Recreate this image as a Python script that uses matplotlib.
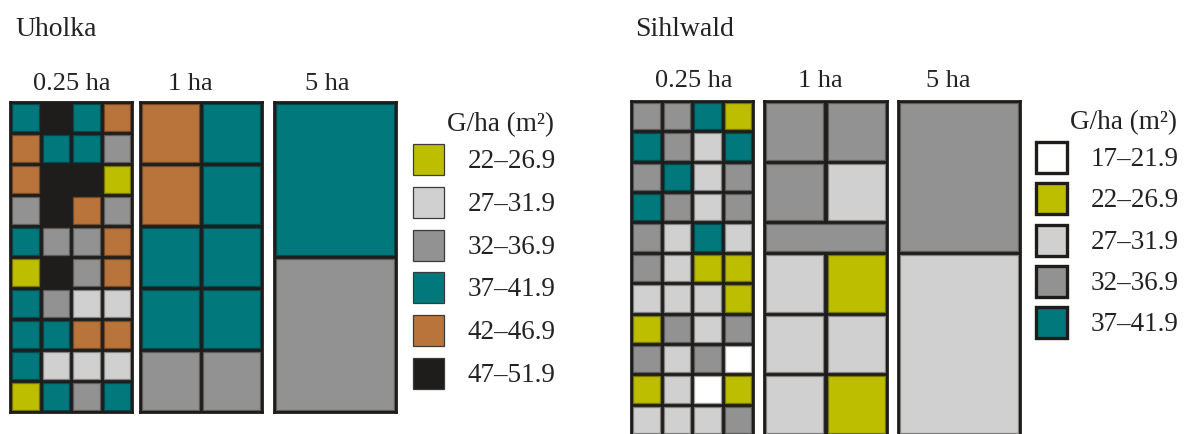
import matplotlib
matplotlib.use("Agg")
import matplotlib.pyplot as plt
from matplotlib.patches import Rectangle
from matplotlib.colors import to_rgb

W, H = 1191, 435
plt.rcParams['font.family'] = ['Liberation Serif', 'DejaVu Serif']

# classes de surface terrière G/ha (m²), index 0..6
class_labels = ['17–21.9', '22–26.9', '27–31.9', '32–36.9', '37–41.9', '42–46.9', '47–51.9']
class_colors = ['#ffffff', '#bebe00', '#d0d0d0', '#929292', '#00787c', '#b9743c', '#1e1d1b']
DARK = '#1e1d1b'

# Uholka : grille 0.25 ha (4 x 10), 1 ha, 5 ha
uholka_025 = [
    [4, 6, 4, 5],
    [5, 4, 4, 3],
    [5, 6, 6, 1],
    [3, 6, 5, 3],
    [4, 3, 3, 5],
    [1, 6, 3, 5],
    [4, 3, 2, 2],
    [4, 4, 5, 5],
    [4, 2, 2, 2],
    [1, 4, 3, 4],
]
uholka_1ha = [[5, 4], [5, 4], [4, 4], [4, 4], [3, 3]]
uholka_1ha_h = [2, 2, 2, 2, 2]
uholka_5ha = [[4], [3]]
uholka_5ha_h = [5, 5]
uholka_legend = [1, 2, 3, 4, 5, 6]

# Sihlwald : grille 0.25 ha (4 x 11), 1 ha, 5 ha
sihlwald_025 = [
    [3, 3, 4, 1],
    [4, 3, 2, 4],
    [3, 4, 2, 3],
    [4, 3, 2, 3],
    [3, 2, 4, 2],
    [3, 2, 1, 1],
    [2, 2, 2, 1],
    [1, 3, 2, 3],
    [3, 2, 3, 0],
    [1, 2, 0, 1],
    [2, 2, 2, 3],
]
sihlwald_1ha = [[3, 3], [3, 2], [3], [2, 1], [2, 2], [2, 1]]
sihlwald_1ha_h = [2, 2, 1, 2, 2, 2]
sihlwald_5ha = [[3], [2]]
sihlwald_5ha_h = [5, 6]
sihlwald_legend = [0, 1, 2, 3, 4]

fig = plt.figure(figsize=(W / 100, H / 100), dpi=100)
fig.patch.set_facecolor('white')

# axe de fond en coordonnées pixels pour les textes et légendes
bg = fig.add_axes([0, 0, 1, 1])
bg.set_xlim(0, W)
bg.set_ylim(H, 0)
bg.axis('off')


def darker(c, f=0.7):
    r, g, b = to_rgb(c)
    return (r * f, g * f, b * f)


def px_axes(x0, y0, x1, y1):
    return fig.add_axes([x0 / W, 1 - y1 / H, (x1 - x0) / W, (y1 - y0) / H])


def draw_panel(box, rows, heights=None, gap=4):
    if heights is None:
        heights = [1] * len(rows)
    ax = px_axes(*box)
    total = sum(heights)
    ax.set_xlim(0, 1)
    ax.set_ylim(total, 0)
    pw, ph = box[2] - box[0], box[3] - box[1]
    dx = gap / 2 / pw
    dy = gap / 2 / ph * total
    y = 0
    for codes, h in zip(rows, heights):
        n = len(codes)
        for j, c in enumerate(codes):
            fc = class_colors[c]
            ec = DARK if c == 6 else darker(fc, 0.62)
            ax.add_patch(Rectangle((j / n + dx, y + dy), 1 / n - 2 * dx, h - 2 * dy,
                                   facecolor=fc, edgecolor=ec, lw=0.9))
        y += h
    ax.set_facecolor(DARK)
    ax.set_xticks([])
    ax.set_yticks([])
    for s in ax.spines.values():
        s.set_color(DARK)
        s.set_linewidth(2)
    return ax


def draw_legend(x, y0, step, codes, thick):
    size = 31
    bg.text(x + 34, y0 - 20, 'G/ha (m²)', fontsize=19.5, va='center', ha='left', color='#222')
    for i, c in enumerate(codes):
        y = y0 + i * step
        bg.add_patch(Rectangle((x, y), size, size, facecolor=class_colors[c],
                               edgecolor=DARK if thick else '#3a3a3a',
                               lw=2.4 if thick else 0.9))
        bg.text(x + 55, y + size / 2 + 1, class_labels[c], fontsize=19.5,
                va='center', ha='left', color='#222')


# --- Uholka
bg.text(15, 36, 'Uholka', fontsize=20, va='baseline', color='#222')
for xc, lab in zip([72, 190, 327], ['0.25 ha', '1 ha', '5 ha']):
    bg.text(xc, 90, lab, fontsize=19, ha='center', va='baseline', color='#222')
draw_panel((10, 103, 132, 413), uholka_025)
draw_panel((140, 103, 262, 413), uholka_1ha, uholka_1ha_h)
draw_panel((274, 103, 396, 413), uholka_5ha, uholka_5ha_h)
draw_legend(413, 145, 42.8, uholka_legend, thick=False)

# --- Sihlwald
bg.text(635, 36, 'Sihlwald', fontsize=20, va='baseline', color='#222')
for xc, lab in zip([694, 820, 948], ['0.25 ha', '1 ha', '5 ha']):
    bg.text(xc, 87, lab, fontsize=19, ha='center', va='baseline', color='#222')
draw_panel((631, 102, 753, 436), sihlwald_025)
draw_panel((764, 102, 887, 436), sihlwald_1ha, sihlwald_1ha_h)
draw_panel((898, 102, 1020, 436), sihlwald_5ha, sihlwald_5ha_h)
draw_legend(1036, 143, 41.3, sihlwald_legend, thick=True)

fig.savefig('out.png', dpi=100)
